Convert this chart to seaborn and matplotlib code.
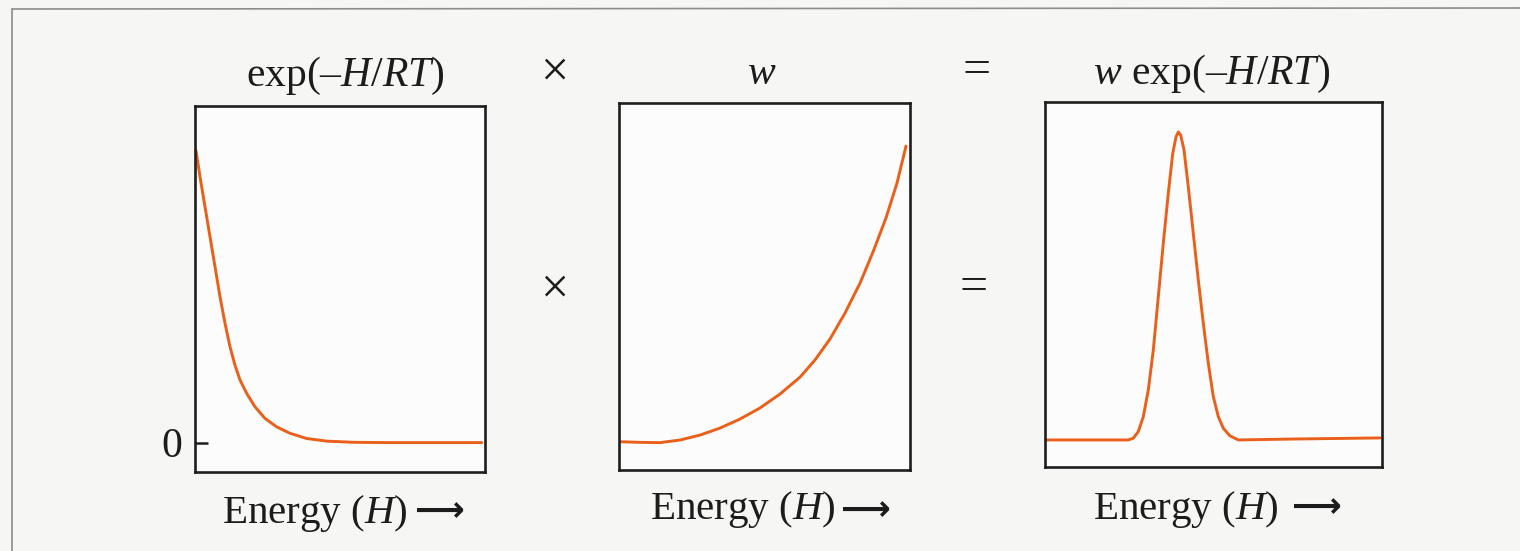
import matplotlib
matplotlib.use("Agg")
import matplotlib.pyplot as plt
from matplotlib.lines import Line2D
import seaborn as sns
import pandas as pd

# Boltzmann factor exp(-H/RT) versus energy
boltz_h = [0.034, 0.172, 0.345, 0.517, 0.690, 0.862, 1.034, 1.207, 1.379, 1.552,
           1.783, 2.069, 2.414, 2.817, 3.276, 3.852, 4.541, 5.459, 6.610, 9.886]
boltz_v = [10.03, 9.13, 8.10, 7.07, 6.04, 5.01, 4.10, 3.29, 2.66, 2.15,
           1.69, 1.23, 0.83, 0.54, 0.32, 0.14, 0.05, 0.01, 0.0, 0.0]

# number of states w versus energy
w_h = [0.069, 0.722, 1.409, 2.096, 2.784, 3.471, 4.158, 4.845, 5.533, 6.220,
       6.735, 7.251, 7.766, 8.282, 8.729, 9.175, 9.553, 9.863]
w_v = [0.01, -0.01, -0.02, 0.07, 0.24, 0.48, 0.79, 1.17, 1.65, 2.23,
       2.82, 3.54, 4.43, 5.46, 6.53, 7.70, 8.90, 10.17]

# product w exp(-H/RT)
prod_h = [0.069, 1.893, 2.867, 3.040, 3.212, 3.384, 3.556, 3.728, 3.900, 4.072,
          4.244, 4.396, 4.509, 4.589, 4.671, 4.785, 4.933, 5.105, 5.277, 5.449,
          5.621, 5.793, 5.966, 6.138, 6.368, 6.654, 8.400, 11.532]
prod_v = [0.0, 0.0, 0.0, 0.06, 0.29, 0.80, 1.72, 3.09, 4.92, 6.76,
          8.48, 9.85, 10.42, 10.59, 10.48, 9.97, 8.70, 7.10, 5.50, 4.01,
          2.64, 1.49, 0.80, 0.40, 0.14, 0.0, 0.03, 0.07]

titles = ["exp(–$H/RT$)", "$w$", "$w$ exp(–$H/RT$)"]
xlabel = "Energy ($H$)"
arrow = "⟶"
zero_label = "0"

sns.set_theme(style="white")
plt.rcParams["font.family"] = ["Liberation Serif", "DejaVu Serif"]
plt.rcParams["mathtext.fontset"] = "custom"
plt.rcParams["mathtext.rm"] = "Liberation Serif"
plt.rcParams["mathtext.it"] = "Liberation Serif:italic"

W, H = 1520, 551
fig = plt.figure(figsize=(W / 100, H / 100), dpi=100, facecolor="#f6f6f5")

def box(l, t, r, b):
    return [l / W, 1 - b / H, (r - l) / W, (b - t) / H]

panels = [
    (box(195, 106, 485, 472), boltz_h, boltz_v, (0, 10.0), (-1.01, 11.56)),
    (box(619, 103, 910, 470), w_h, w_v, (0, 10.0), (-0.96, 11.65)),
    (box(1045, 102, 1382, 467), prod_h, prod_v, (0, 11.6), (-0.93, 11.62)),
]

curve_color = "#ea5f1a"
ink = "#1c1c1c"
axes = []
for rect, xs, ys, xl, yl in panels:
    ax = fig.add_axes(rect)
    ax.set_facecolor("#fcfcfc")
    df = pd.DataFrame({"H": xs, "v": ys})
    sns.lineplot(data=df, x="H", y="v", ax=ax, color=curve_color,
                 linewidth=2.1, estimator=None, sort=False)
    ax.set_xlim(*xl)
    ax.set_ylim(*yl)
    ax.set_xticks([])
    ax.set_yticks([])
    ax.set_xlabel("")
    ax.set_ylabel("")
    for s in ax.spines.values():
        s.set_visible(True)
        s.set_color("#1e1e1e")
        s.set_linewidth(1.9)
    axes.append(ax)

# zero tick on the first panel
axes[0].set_yticks([0])
axes[0].set_yticklabels([zero_label])
axes[0].tick_params(axis="y", direction="in", length=9.5, width=1.8,
                    color="#1e1e1e", pad=9, labelsize=30, labelcolor=ink, left=True)

def ftext(x, y, s, ha="center", va="center", **kw):
    fig.text(x / W, 1 - y / H, s, ha=ha, va=va, color=ink, **kw)

ftext(345, 76, titles[0], fontsize=30)
ftext(762, 74, titles[1], fontsize=30)
ftext(1212, 74, titles[2], fontsize=30)

ftext(554, 73, "×", fontsize=36)
ftext(554, 290, "×", fontsize=36)
ftext(977, 71, "=", fontsize=36)
ftext(974, 288, "=", fontsize=36)

# axis captions with an arrow pointing toward higher energy
for x0, base, ax0, ay in [(222, 523, 414, 511), (650, 519, 840, 510), (1093, 519, 1291, 507)]:
    ftext(x0, base, xlabel, ha="left", va="baseline", fontsize=29.5)
    ftext(ax0, ay, arrow, ha="left", va="center", fontsize=25,
          family=["DejaVu Sans"], fontweight="bold")

# outer frame
fig.add_artist(Line2D([12 / W, 1.0], [1 - 9 / H, 1 - 8 / H], transform=fig.transFigure,
                      color="#8c8c8c", linewidth=1.2))
fig.add_artist(Line2D([12 / W, 12 / W], [1 - 9 / H, 0.0], transform=fig.transFigure,
                      color="#8c8c8c", linewidth=1.2))

fig.savefig("out.png", dpi=100, facecolor=fig.get_facecolor())
